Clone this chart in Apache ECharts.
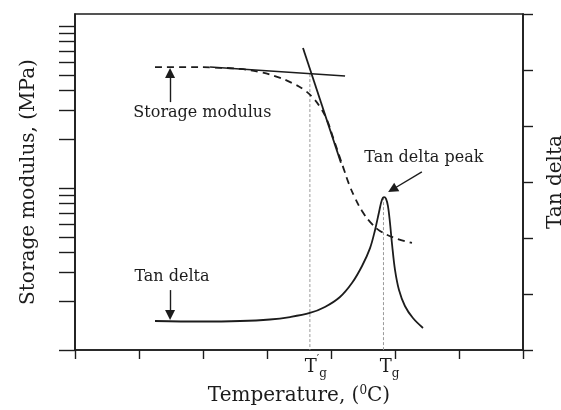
<!DOCTYPE html>
<html>
<head>
<meta charset="utf-8">
<script src="https://cdn.jsdelivr.net/npm/echarts@6/dist/echarts.min.js"></script>
<style>
  html, body { margin: 0; padding: 0; background: #fff; }
  #chart { width: 561px; height: 410px; }
</style>
</head>
<body>
<div id="chart"></div>
<script>
// Temperature axis (°C) – unlabeled except for the transition markers
const tempMin = 0, tempMax = 140, tempStep = 20;
// Storage modulus axis (MPa, logarithmic)
const modulusMin = 1, modulusMax = 118.6;
const modulusTicks = [1, 2, 3, 4, 5, 6, 7, 8, 9, 10, 20, 30, 40, 50, 60, 70, 80, 90, 100];
// Tan delta axis
const tanMin = 0, tanMax = 0.6, tanStep = 0.1;

// Storage modulus vs temperature
const storageTemp    = [25.0, 34.4, 43.75, 51.6, 57.8, 63.4, 67.8, 71.25, 74.1, 76.6, 78.75, 80.6, 82.5, 84.1, 85.6, 87.5, 89.7, 92.2, 95.3, 100.0, 105.3];
const storageModulus = [55.8, 55.8, 55.4, 54.3, 52.0, 48.4, 44.5, 40.8, 36.5, 31.6, 26.3, 20.6, 16.0, 12.9, 10.6, 8.68, 7.21, 6.17, 5.43, 4.91, 4.58];

// Tan delta vs temperature
const tanTemp  = [25, 39.1, 51.6, 60.9, 67.2, 73.4, 78.1, 82.8, 86.6, 89.7, 92.2, 93.75, 95.0, 95.9, 96.6, 97.2, 97.8, 98.4, 99.1, 100, 101.25, 103.1, 105.6, 108.75];
const tanDelta = [0.0518, 0.0509, 0.0518, 0.0545, 0.0589, 0.0661, 0.0768, 0.0946, 0.120, 0.150, 0.182, 0.214, 0.246, 0.268, 0.273, 0.270, 0.257, 0.229, 0.1875, 0.143, 0.107, 0.0786, 0.0571, 0.0393];

// Tangent construction on the modulus curve
const glassyTangentTemp    = [42.2, 84.4];
const glassyTangentModulus = [55.8, 49.1];
const dropTangentTemp      = [71.25, 83.1];
const dropTangentModulus   = [73.1, 14.3];

// Transition temperatures: onset (tangent intersection) and tan delta peak
const transitionTemps  = [73.4, 96.4];
const transitionLabels = ['{t|T}{p|\u2032}{s|g}', '{t|T}{s|g}'];
const onsetModulus = 50.5;
const peakTanDelta = 0.273;

// Annotations: text anchor, arrow start, arrow end
const noteStorage   = { text: 'Storage modulus', at: [39.8, 29.0], from: [29.7, 33.9], to: [29.7, 51.3] };
const noteTan       = { text: 'Tan delta',       at: [30.3, 0.130], from: [29.7, 0.107], to: [29.7, 0.0625] };
const noteTanPeak   = { text: 'Tan delta peak',  at: [109.0, 0.343], from: [108.4, 0.318], to: [99.2, 0.2866] };

const ink = '#1c1c1c';
const serif = 'DejaVu Serif';

const zip = (xs, ys) => xs.map((x, i) => [x, ys[i]]);
const tempTicks = [];
for (let t = tempMin; t <= tempMax; t += tempStep) tempTicks.push(t);

function arrowLine(note) {
  return [[{ coord: note.from, symbol: 'none' }, { coord: note.to, symbol: 'triangle', symbolSize: 10 }]];
}
function noteLabel(note) {
  return { value: note.at, name: note.text };
}
const noteStyle = {
  show: true, position: 'inside', formatter: '{b}',
  fontFamily: serif, fontSize: 16, color: ink, opacity: 1
};
const arrowStyle = { color: ink, width: 1.4, type: 'solid' };

const chart = echarts.init(document.getElementById('chart'), null, { renderer: 'canvas' });
chart.setOption({
  animation: false,
  backgroundColor: '#fff',
  grid: {
    left: 75, right: 38, top: 14, bottom: 60,
    outerBoundsMode: 'none', containLabel: false,
    show: true, borderColor: ink, borderWidth: 1.6, backgroundColor: 'transparent'
  },
  xAxis: {
    type: 'value', min: tempMin, max: tempMax, interval: tempStep,
    name: 'Temperature, ({sup|0}C)', nameLocation: 'middle', nameGap: 33,
    nameTextStyle: { fontFamily: serif, fontSize: 20, color: ink, rich: { sup: { fontFamily: serif, fontSize: 12, verticalAlign: 'top', lineHeight: 22, color: ink } } },
    axisLine: { lineStyle: { color: ink, width: 1.6 } },
    axisTick: { inside: false, length: 9, customValues: tempTicks, lineStyle: { color: ink, width: 1.4 } },
    axisLabel: {
      customValues: transitionTemps,
      formatter: v => transitionLabels[transitionTemps.indexOf(v)] || '',
      margin: 4, padding: [0, 0, 0, 12],
      fontFamily: serif, color: ink,
      rich: {
        t: { fontFamily: serif, fontSize: 18, lineHeight: 26, color: ink },
        p: { fontFamily: serif, fontSize: 11, verticalAlign: 'top', color: ink },
        s: { fontFamily: serif, fontSize: 12, verticalAlign: 'bottom', color: ink }
      }
    },
    splitLine: { show: false }
  },
  yAxis: [
    {
      type: 'log', logBase: 10, min: modulusMin, max: modulusMax, position: 'left',
      name: 'Storage modulus, (MPa)', nameLocation: 'middle', nameGap: 36,
      nameTextStyle: { fontFamily: serif, fontSize: 20, color: ink },
      axisLine: { show: true, lineStyle: { color: ink, width: 1.6 } },
      axisTick: { show: true, inside: false, length: 16, customValues: modulusTicks, lineStyle: { color: ink, width: 1.4 } },
      axisLabel: { show: false },
      splitLine: { show: false }
    },
    {
      type: 'value', min: tanMin, max: tanMax, interval: tanStep, position: 'right',
      name: 'Tan delta', nameLocation: 'middle', nameGap: 23,
      nameTextStyle: { fontFamily: serif, fontSize: 20, color: ink },
      axisLine: { show: true, lineStyle: { color: ink, width: 1.6 } },
      axisTick: { show: true, inside: false, length: 10, lineStyle: { color: ink, width: 1.4 } },
      axisLabel: { show: false },
      splitLine: { show: false }
    }
  ],
  series: [
    {
      name: 'Onset guide', type: 'line', yAxisIndex: 0, z: 1, symbol: 'none', silent: true,
      data: [[transitionTemps[0], onsetModulus], [transitionTemps[0], modulusMin]],
      lineStyle: { color: '#9a9a9a', width: 1, type: [3, 2] }
    },
    {
      name: 'Peak guide', type: 'line', yAxisIndex: 1, z: 1, symbol: 'none', silent: true,
      data: [[transitionTemps[1], peakTanDelta], [transitionTemps[1], tanMin]],
      lineStyle: { color: '#9a9a9a', width: 1, type: [3, 2] }
    },
    {
      name: 'Storage modulus', type: 'line', yAxisIndex: 0, z: 3, symbol: 'none', smooth: 0.4,
      data: zip(storageTemp, storageModulus),
      lineStyle: { color: ink, width: 1.8, type: [7, 5] }
    },
    {
      name: 'Glassy tangent', type: 'line', yAxisIndex: 0, z: 4, symbol: 'none',
      data: zip(glassyTangentTemp, glassyTangentModulus),
      lineStyle: { color: ink, width: 1.5 }
    },
    {
      name: 'Drop tangent', type: 'line', yAxisIndex: 0, z: 4, symbol: 'none',
      data: zip(dropTangentTemp, dropTangentModulus),
      lineStyle: { color: ink, width: 1.8 }
    },
    {
      name: 'Tan delta', type: 'line', yAxisIndex: 1, z: 3, symbol: 'none', smooth: 0.35,
      data: zip(tanTemp, tanDelta),
      lineStyle: { color: ink, width: 1.8 }
    },
    {
      name: 'Modulus notes', type: 'scatter', yAxisIndex: 0, z: 5, symbolSize: 1, silent: true,
      itemStyle: { color: 'rgba(0,0,0,0)' },
      label: noteStyle,
      data: [noteLabel(noteStorage)],
      markLine: { silent: true, animation: false, label: { show: false }, lineStyle: arrowStyle, emphasis: { disabled: true },
        data: arrowLine(noteStorage) }
    },
    {
      name: 'Tan delta notes', type: 'scatter', yAxisIndex: 1, z: 5, symbolSize: 1, silent: true,
      itemStyle: { color: 'rgba(0,0,0,0)' },
      label: noteStyle,
      data: [noteLabel(noteTan), noteLabel(noteTanPeak)],
      markLine: { silent: true, animation: false, label: { show: false }, lineStyle: arrowStyle, emphasis: { disabled: true },
        data: arrowLine(noteTan).concat(arrowLine(noteTanPeak)) }
    }
  ]
});
</script>
</body>
</html>
